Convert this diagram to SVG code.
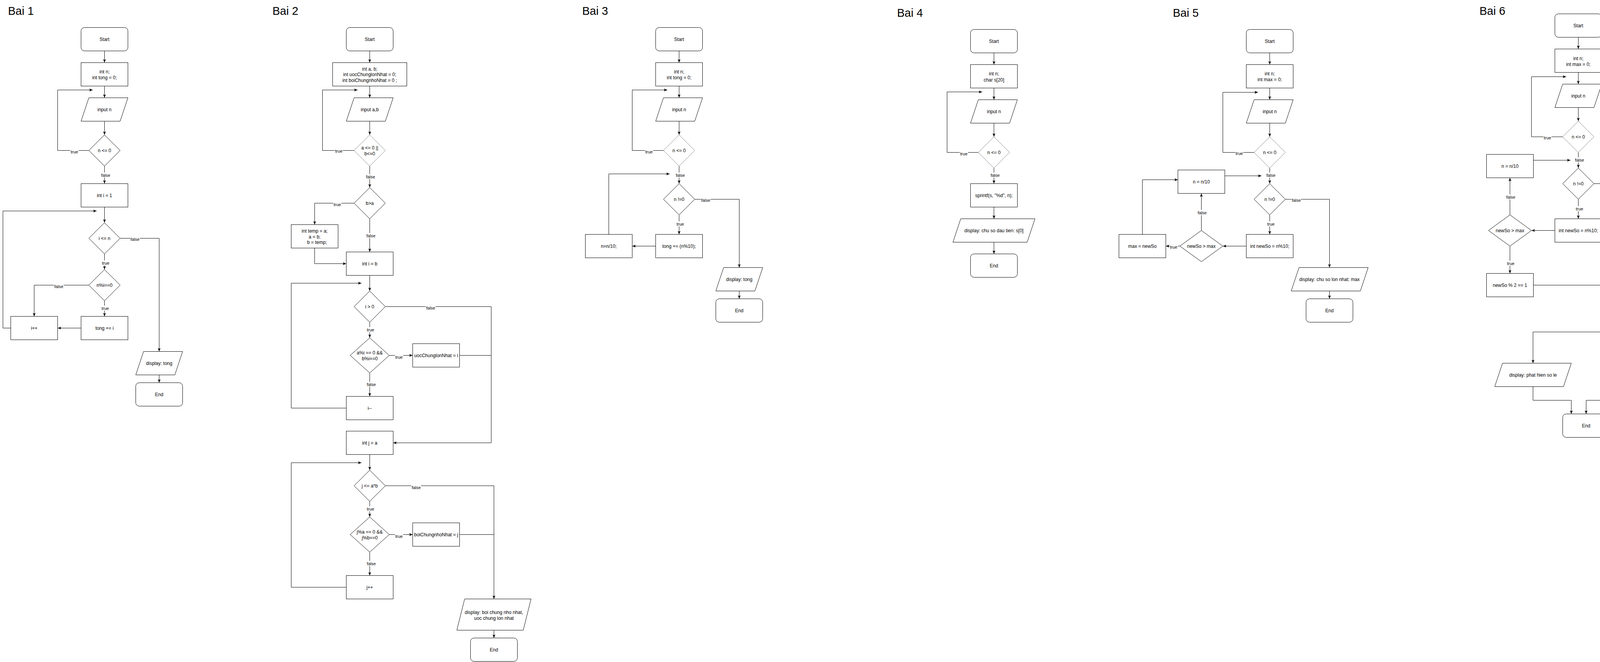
<svg xmlns="http://www.w3.org/2000/svg" width="5355" height="1696" viewBox="0 0 5355 1696">
<defs>
<style>
.t{font-family:"Liberation Sans",Arial,Helvetica,sans-serif;font-size:12px;fill:#000;text-anchor:middle}
.h{font-family:"Liberation Sans",Arial,Helvetica,sans-serif;font-size:29px;fill:#000}
.lb{font-family:"Liberation Sans",Arial,Helvetica,sans-serif;font-size:11px;fill:#000;text-anchor:middle}
.s{fill:#fff;stroke:#000;stroke-width:1}
.g{fill:#fff;stroke:#808080;stroke-width:1}
.e{fill:none;stroke:#000;stroke-width:1;marker-end:url(#ar)}
.n{fill:none;stroke:#000;stroke-width:1}
.bg{fill:#fff}
</style>
<marker id="ar" viewBox="0 0 10 10" refX="10" refY="5" markerWidth="9" markerHeight="9" markerUnits="userSpaceOnUse" orient="auto"><path d="M0,1 L10,5 L0,9 L2.5,5 z" fill="#000"/></marker>
</defs>
<rect x="0" y="0" width="5355" height="1696" fill="#fff"/>
<g transform="translate(0.5,0.5)">
<g id="titles">
<text class="h" x="20" y="37">Bai 1</text>
<text class="h" x="697" y="37">Bai 2</text>
<text class="h" x="1490" y="37">Bai 3</text>
<text class="h" x="2296" y="42">Bai 4</text>
<text class="h" x="3002" y="42">Bai 5</text>
<text class="h" x="3787" y="37">Bai 6</text>
<text class="h" x="4636" y="42">Bai 7</text>
</g>

<!-- ===== Bai 1 ===== -->
<g id="b1-start"><rect class="s" x="207" y="70" width="120" height="60" rx="9"/><text class="t" x="267" y="104">Start</text></g>
<g id="b1-decl"><rect class="s" x="207" y="160" width="120" height="60"/><text class="t" x="267" y="187">int n;</text><text class="t" x="267" y="202">int tong = 0;</text></g>
<g id="b1-input"><polygon class="s" points="227,250 327,250 307,310 207,310"/><text class="t" x="267" y="284">input n</text></g>
<g id="b1-check"><polygon class="s" points="267,345 307,385 267,425 227,385"/><text class="t" x="267" y="389">n &lt;= 0</text></g>
<g id="b1-init"><rect class="s" x="207" y="470" width="120" height="60"/><text class="t" x="267" y="504">int i = 1</text></g>
<g id="b1-loop"><polygon class="s" points="267,570 307,610 267,650 227,610"/><text class="t" x="267" y="614">i &lt;= n</text></g>
<g id="b1-div"><polygon class="s" points="267,690 307,730 267,770 227,730"/><text class="t" x="267" y="734">n%i==0</text></g>
<g id="b1-add"><rect class="s" x="207" y="810" width="120" height="60"/><text class="t" x="267" y="844">tong += i</text></g>
<g id="b1-inc"><rect class="s" x="27" y="810" width="120" height="60"/><text class="t" x="87" y="844">i++</text></g>
<g id="b1-out"><polygon class="s" points="367,900 467,900 447,960 347,960"/><text class="t" x="407" y="934">display: tong</text></g>
<g id="b1-end"><rect class="s" x="347" y="980" width="120" height="60" rx="9"/><text class="t" x="407" y="1014">End</text></g>

<!-- ===== Bai 2 ===== -->
<g id="b2-start"><rect class="s" x="886" y="70" width="120" height="60" rx="9"/><text class="t" x="946" y="104">Start</text></g>
<g id="b2-decl"><rect class="s" x="851" y="160" width="190" height="60"/><text class="t" x="946" y="180">int a, b;</text><text class="t" x="946" y="194.5">int uocChunglonNhat = 0;</text><text class="t" x="946" y="209">int boiChungnhoNhat = 0 ;</text></g>
<g id="b2-input"><polygon class="s" points="906,250 1006,250 986,310 886,310"/><text class="t" x="946" y="284">input a,b</text></g>
<g id="b2-check"><polygon class="g" points="946,345 986,385 946,425 906,385"/><text class="t" x="946" y="382">a &lt;= 0 ||</text><text class="t" x="946" y="397">b&lt;=0</text></g>
<g id="b2-cmp"><polygon class="s" points="946,480 986,520 946,560 906,520"/><text class="t" x="946" y="524">b&gt;a</text></g>
<g id="b2-swap"><rect class="s" x="745" y="575" width="120" height="60"/><text class="t" x="805" y="595.5">int temp = a;</text><text class="t" x="805" y="610">a = b;</text><text class="t" x="811" y="624.5">b = temp;</text></g>
<g id="b2-initi"><rect class="s" x="886" y="645" width="120" height="60"/><text class="t" x="946" y="679">int i = b</text></g>
<g id="b2-loopi"><polygon class="s" points="946,745 986,785 946,825 906,785"/><text class="t" x="946" y="789">i &gt; 0</text></g>
<g id="b2-divi"><polygon class="s" points="946,865 996,910 946,955 896,910"/><text class="t" x="946" y="907.5">a%i == 0 &amp;&amp;</text><text class="t" x="946" y="922.5">b%i==0</text></g>
<g id="b2-ucln"><rect class="s" x="1056" y="880" width="120" height="60"/><text class="t" x="1116" y="914">uocChunglonNhat = i</text></g>
<g id="b2-dec"><rect class="s" x="886" y="1015" width="120" height="60"/><text class="t" x="946" y="1049">i--</text></g>
<g id="b2-initj"><rect class="s" x="886" y="1104" width="120" height="60"/><text class="t" x="946" y="1138">int j = a</text></g>
<g id="b2-loopj"><polygon class="s" points="946,1204 986,1244 946,1284 906,1244"/><text class="t" x="946" y="1248">j &lt;= a*b</text></g>
<g id="b2-divj"><polygon class="s" points="946,1324 996,1369 946,1414 896,1369"/><text class="t" x="946" y="1366.5">j%a == 0 &amp;&amp;</text><text class="t" x="946" y="1381.5">j%b==0</text></g>
<g id="b2-bcnn"><rect class="s" x="1056" y="1339" width="120" height="60"/><text class="t" x="1116" y="1373">boiChungnhoNhat = j</text></g>
<g id="b2-inc"><rect class="s" x="886" y="1474" width="120" height="60"/><text class="t" x="946" y="1508">j++</text></g>
<g id="b2-out"><polygon class="s" points="1189,1534 1359,1534 1339,1614 1169,1614"/><text class="t" x="1264" y="1572.5">display: boi chung nho nhat,</text><text class="t" x="1264" y="1587.5">uoc chung lon nhat</text></g>
<g id="b2-end"><rect class="s" x="1204" y="1634" width="120" height="60" rx="9"/><text class="t" x="1264" y="1668">End</text></g>

<!-- ===== Bai 3 ===== -->
<g id="b3-start"><rect class="s" x="1678" y="70" width="120" height="60" rx="9"/><text class="t" x="1738" y="104">Start</text></g>
<g id="b3-decl"><rect class="s" x="1678" y="160" width="120" height="60"/><text class="t" x="1738" y="187.5">int n;</text><text class="t" x="1738" y="202.5">int tong = 0;</text></g>
<g id="b3-input"><polygon class="s" points="1698,250 1798,250 1778,310 1678,310"/><text class="t" x="1738" y="284">input n</text></g>
<g id="b3-check"><polygon class="g" points="1738,345 1778,385 1738,425 1698,385"/><text class="t" x="1738" y="389">n &lt;= 0</text></g>
<g id="b3-loop"><polygon class="s" points="1738,470 1778,510 1738,550 1698,510"/><text class="t" x="1738" y="514">n !=0</text></g>
<g id="b3-add"><rect class="s" x="1678" y="600" width="120" height="60"/><text class="t" x="1738" y="634">tong += (n%10);</text></g>
<g id="b3-div"><rect class="s" x="1498" y="600" width="120" height="60"/><text class="t" x="1558" y="634">n=n/10;</text></g>
<g id="b3-out"><polygon class="s" points="1852,685 1952,685 1932,745 1832,745"/><text class="t" x="1892" y="719">display: tong</text></g>
<g id="b3-end"><rect class="s" x="1832" y="765" width="120" height="60" rx="9"/><text class="t" x="1892" y="799">End</text></g>

<!-- ===== Bai 4 ===== -->
<g id="b4-start"><rect class="s" x="2484" y="75" width="120" height="60" rx="9"/><text class="t" x="2544" y="109">Start</text></g>
<g id="b4-decl"><rect class="s" x="2484" y="165" width="120" height="60"/><text class="t" x="2544" y="192.5">int n;</text><text class="t" x="2544" y="208">char s[20]</text></g>
<g id="b4-input"><polygon class="s" points="2504,255 2604,255 2584,315 2484,315"/><text class="t" x="2544" y="289">input n</text></g>
<g id="b4-check"><polygon class="g" points="2544,350 2584,390 2544,430 2504,390"/><text class="t" x="2544" y="394">n &lt;= 0</text></g>
<g id="b4-conv"><rect class="s" x="2484" y="470" width="120" height="60"/><text class="t" x="2544" y="504">sprintf(s, "%d", n);</text></g>
<g id="b4-out"><polygon class="s" points="2459,560 2649,560 2629,620 2439,620"/><text class="t" x="2544" y="594">display: chu so dau tien: s[0]</text></g>
<g id="b4-end"><rect class="s" x="2484" y="650" width="120" height="60" rx="9"/><text class="t" x="2544" y="684">End</text></g>

<!-- ===== Bai 5 ===== -->
<g id="b5-start"><rect class="s" x="3190" y="75" width="120" height="60" rx="9"/><text class="t" x="3250" y="109">Start</text></g>
<g id="b5-decl"><rect class="s" x="3190" y="165" width="120" height="60"/><text class="t" x="3250" y="192.5">int n;</text><text class="t" x="3250" y="207.5">int max = 0;</text></g>
<g id="b5-input"><polygon class="s" points="3210,255 3310,255 3290,315 3190,315"/><text class="t" x="3250" y="289">input n</text></g>
<g id="b5-check"><polygon class="g" points="3250,350 3290,390 3250,430 3210,390"/><text class="t" x="3250" y="394">n &lt;= 0</text></g>
<g id="b5-div"><rect class="s" x="3015" y="435" width="120" height="60"/><text class="t" x="3075" y="469">n = n/10</text></g>
<g id="b5-loop"><polygon class="s" points="3250,470 3290,510 3250,550 3210,510"/><text class="t" x="3250" y="514">n !=0</text></g>
<g id="b5-digit"><rect class="s" x="3190" y="600" width="120" height="60"/><text class="t" x="3250" y="634">int newSo = n%10;</text></g>
<g id="b5-cmp"><polygon class="s" points="3075,590 3130,630 3075,670 3020,630"/><text class="t" x="3075" y="634">newSo &gt; max</text></g>
<g id="b5-max"><rect class="s" x="2864" y="600" width="120" height="60"/><text class="t" x="2924" y="634">max = newSo</text></g>
<g id="b5-out"><polygon class="s" points="3325,685 3502,685 3482,745 3305,745"/><text class="t" x="3403" y="719">display: chu so lon nhat: max</text></g>
<g id="b5-end"><rect class="s" x="3343" y="765" width="120" height="60" rx="9"/><text class="t" x="3403" y="799">End</text></g>

<!-- ===== Bai 6 ===== -->
<g id="b6-start"><rect class="s" x="3980" y="35" width="120" height="60" rx="9"/><text class="t" x="4040" y="69">Start</text></g>
<g id="b6-decl"><rect class="s" x="3980" y="125" width="120" height="60"/><text class="t" x="4040" y="153">int n;</text><text class="t" x="4040" y="168">int max = 0;</text></g>
<g id="b6-input"><polygon class="s" points="4000,215 4100,215 4080,275 3980,275"/><text class="t" x="4040" y="249">input n</text></g>
<g id="b6-check"><polygon class="g" points="4040,310 4080,350 4040,390 4000,350"/><text class="t" x="4040" y="354">n &lt;= 0</text></g>
<g id="b6-div"><rect class="s" x="3805" y="395" width="120" height="60"/><text class="t" x="3865" y="429">n = n/10</text></g>
<g id="b6-loop"><polygon class="s" points="4040,430 4080,470 4040,510 4000,470"/><text class="t" x="4040" y="474">n !=0</text></g>
<g id="b6-digit"><rect class="s" x="3980" y="560" width="120" height="60"/><text class="t" x="4040" y="594">int newSo = n%10;</text></g>
<g id="b6-cmp"><polygon class="s" points="3865,550 3920,590 3865,630 3810,590"/><text class="t" x="3865" y="594">newSo &gt; max</text></g>
<g id="b6-odd"><rect class="s" x="3805" y="700" width="120" height="60"/><text class="t" x="3865" y="734">newSo % 2 == 1</text></g>
<g id="b6-zero"><polygon class="s" points="4198,810 4238,850 4198,890 4158,850"/><text class="t" x="4198" y="854">n==0</text></g>
<g id="b6-out1"><polygon class="s" points="3846,930 4022,930 4002,990 3826,990"/><text class="t" x="3924" y="964">display: phat hien so le</text></g>
<g id="b6-out2"><polygon class="s" points="4120,930 4296,930 4276,990 4100,990"/><text class="t" x="4198" y="964">display: ko phat hien so le</text></g>
<g id="b6-end"><rect class="s" x="4000" y="1060" width="120" height="60" rx="9"/><text class="t" x="4060" y="1094">End</text></g>

<!-- ===== Bai 7 ===== -->
<g id="b7-start"><rect class="s" x="4914" y="98" width="120" height="60" rx="9"/><text class="t" x="4974" y="132">Start</text></g>
<g id="b7-decl"><rect class="s" x="4879" y="188" width="190" height="60"/><text class="t" x="4974" y="222">int a, b;</text></g>
<g id="b7-input"><polygon class="s" points="4934,278 5034,278 5014,338 4914,338"/><text class="t" x="4974" y="312">input a,b</text></g>
<g id="b7-check"><polygon class="s" points="4974,373 5014,413 4974,453 4934,413"/><text class="t" x="4974" y="417">a&gt;b</text></g>
<g id="b7-initi"><rect class="s" x="4914" y="510" width="120" height="60"/><text class="t" x="4974" y="544">int i = a+1</text></g>
<g id="b7-loopi"><polygon class="s" points="4974,630 5014,670 4974,710 4934,670"/><text class="t" x="4974" y="674">i&lt;=b</text></g>
<g id="b7-dem"><rect class="s" x="4914" y="745" width="120" height="60"/><text class="t" x="4974" y="779">int dem = 0</text></g>
<g id="b7-initj"><rect class="s" x="4914" y="835" width="120" height="60"/><text class="t" x="4974" y="869">int j = 2</text></g>
<g id="b7-loopj"><polygon class="s" points="4974,945 5014,985 4974,1025 4934,985"/><text class="t" x="4974" y="989">j&lt;i</text></g>
<g id="b7-div"><polygon class="s" points="4974,1055 5014,1095 4974,1135 4934,1095"/><text class="t" x="4974" y="1099">i%j==0</text></g>
<g id="b7-incj"><rect class="s" x="4834" y="1185" width="120" height="60"/><text class="t" x="4894" y="1219">j++</text></g>
<g id="b7-incdem"><rect class="s" x="4984" y="1185" width="120" height="60"/><text class="t" x="5044" y="1219">dem++</text></g>
<g id="b7-prime"><polygon class="s" points="5124,1345 5164,1385 5124,1425 5084,1385"/><text class="t" x="5124" y="1389">dem = 0</text></g>
<g id="b7-inci"><rect class="s" x="4675" y="1414" width="120" height="60"/><text class="t" x="4735" y="1448">i++</text></g>
<g id="b7-print"><rect class="s" x="4999" y="1465" width="250" height="60"/><text class="t" x="5124" y="1499">printf("phat hien so nguyen to: %d",i);</text></g>
<g id="b7-end"><rect class="s" x="5234" y="1627" width="120" height="60" rx="9"/><text class="t" x="5294" y="1661">End</text></g>

<!-- ===== connectors ===== -->
<g id="connectors">
<path class="e" d="M267,130 V160"/>
<path class="e" d="M267,220 V250"/>
<path class="e" d="M267,310 V345"/>
<path class="e" d="M227,385 H147 V230 H237"/>
<path class="e" d="M267,425 V470"/>
<path class="e" d="M267,530 V570"/>
<path class="e" d="M307,610 H407 V900"/>
<path class="e" d="M267,650 V690"/>
<path class="e" d="M227,730 H87 V810"/>
<path class="e" d="M267,770 V810"/>
<path class="e" d="M207,840 H147"/>
<path class="e" d="M27,840 H7 V540 H247"/>
<path class="e" d="M407,960 V980"/>
<path class="e" d="M946,130 V160"/>
<path class="e" d="M946,220 V250"/>
<path class="e" d="M946,310 V345"/>
<path class="e" d="M906,385 H825 V230 H915"/>
<path class="e" d="M946,425 V480"/>
<path class="e" d="M906,520 H805 V575"/>
<path class="e" d="M946,560 V645"/>
<path class="e" d="M805,635 V675 H886"/>
<path class="e" d="M946,705 V745"/>
<path class="e" d="M986,785 H1257 V1134 H1006"/>
<path class="e" d="M946,825 V865"/>
<path class="e" d="M996,910 H1056"/>
<path class="n" d="M1176,910 H1257"/>
<path class="e" d="M946,955 V1015"/>
<path class="e" d="M886,1045 H745 V725 H925"/>
<path class="e" d="M946,1164 V1204"/>
<path class="e" d="M986,1244 H1264 V1534"/>
<path class="e" d="M946,1284 V1324"/>
<path class="e" d="M996,1369 H1056"/>
<path class="n" d="M1176,1369 H1264"/>
<path class="e" d="M946,1414 V1474"/>
<path class="e" d="M886,1504 H745 V1185 H925"/>
<path class="e" d="M1264,1614 V1634"/>
<path class="e" d="M1738,130 V160"/>
<path class="e" d="M1738,220 V250"/>
<path class="e" d="M1738,310 V345"/>
<path class="e" d="M1698,385 H1618 V230 H1708"/>
<path class="e" d="M1738,425 V470"/>
<path class="e" d="M1778,510 H1892 V685"/>
<path class="e" d="M1738,550 V600"/>
<path class="e" d="M1678,630 H1618"/>
<path class="e" d="M1558,600 V445 H1714"/>
<path class="e" d="M1892,745 V765"/>
<path class="e" d="M2544,135 V165"/>
<path class="e" d="M2544,225 V255"/>
<path class="e" d="M2544,315 V350"/>
<path class="e" d="M2504,390 H2424 V235 H2514"/>
<path class="e" d="M2544,430 V470"/>
<path class="e" d="M2544,530 V560"/>
<path class="e" d="M2544,620 V650"/>
<path class="e" d="M3250,135 V165"/>
<path class="e" d="M3250,225 V255"/>
<path class="e" d="M3250,315 V350"/>
<path class="e" d="M3210,390 H3130 V236 H3220"/>
<path class="e" d="M3250,430 V470"/>
<path class="e" d="M3135,450 H3229"/>
<path class="e" d="M3290,510 H3403 V685"/>
<path class="e" d="M3250,550 V600"/>
<path class="e" d="M3190,630 H3130"/>
<path class="e" d="M3020,630 H2984"/>
<path class="e" d="M3075,590 V495"/>
<path class="e" d="M2924,600 V460 H3015"/>
<path class="e" d="M3403,745 V765"/>
<path class="e" d="M4040,95 V125"/>
<path class="e" d="M4040,185 V215"/>
<path class="e" d="M4040,275 V310"/>
<path class="e" d="M4000,350 H3920 V196 H4009"/>
<path class="e" d="M4040,390 V430"/>
<path class="e" d="M3925,410 H4020"/>
<path class="e" d="M4080,470 H4198 V810"/>
<path class="e" d="M4040,510 V560"/>
<path class="e" d="M3980,590 H3920"/>
<path class="e" d="M3865,550 V455"/>
<path class="e" d="M3865,630 V700"/>
<path class="n" d="M3925,730 H4195"/>
<path class="e" d="M4158,850 H3924 V930"/>
<path class="e" d="M4198,890 V930"/>
<path class="e" d="M3924,990 V1025 H4022 V1060"/>
<path class="e" d="M4198,990 V1025 H4060 V1060"/>
<path class="e" d="M4974,158 V188"/>
<path class="e" d="M4974,248 V278"/>
<path class="e" d="M4974,338 V373"/>
<path class="e" d="M4934,413 H4855 V258 H4944"/>
<path class="e" d="M4974,453 V510"/>
<path class="e" d="M4974,570 V630"/>
<path class="e" d="M4734,1414 V605 H4944"/>
<path class="e" d="M5014,670 H5294 V1627"/>
<path class="e" d="M4974,710 V745"/>
<path class="e" d="M4974,805 V835"/>
<path class="e" d="M4974,895 V945"/>
<path class="e" d="M4834,1215 H4815 V926 H4954"/>
<path class="e" d="M5014,985 H5124 V1345"/>
<path class="e" d="M4974,1025 V1055"/>
<path class="e" d="M4934,1095 H4888 V1185"/>
<path class="e" d="M5014,1095 H5044 V1185"/>
<path class="e" d="M4984,1215 H4954"/>
<path class="e" d="M5084,1385 H4939 V1429 H4795"/>
<path class="e" d="M5124,1425 V1465"/>
<path class="e" d="M4999,1495 H4897 V1444 H4795"/>

<g id="labels">
<rect class="bg" x="179.5" y="381.5" width="21" height="13"/><text class="lb" x="190" y="392">true</text>
<rect class="bg" x="257.5" y="441.5" width="25" height="13"/><text class="lb" x="270" y="452">false</text>
<rect class="bg" x="332.5" y="605.5" width="25" height="13"/><text class="lb" x="345" y="616">false</text>
<rect class="bg" x="259.5" y="666.5" width="21" height="13"/><text class="lb" x="270" y="677">true</text>
<rect class="bg" x="137.5" y="726.5" width="25" height="13"/><text class="lb" x="150" y="737">false</text>
<rect class="bg" x="258.5" y="782.5" width="21" height="13"/><text class="lb" x="269" y="793">true</text>
<rect class="bg" x="856.5" y="379.5" width="21" height="13"/><text class="lb" x="867" y="390">true</text>
<rect class="bg" x="935.5" y="445.5" width="25" height="13"/><text class="lb" x="948" y="456">false</text>
<rect class="bg" x="852.5" y="516.5" width="21" height="13"/><text class="lb" x="863" y="527">true</text>
<rect class="bg" x="936.5" y="596.5" width="25" height="13"/><text class="lb" x="949" y="607">false</text>
<rect class="bg" x="1089.5" y="781.5" width="25" height="13"/><text class="lb" x="1102" y="792">false</text>
<rect class="bg" x="937.5" y="837.5" width="21" height="13"/><text class="lb" x="948" y="848">true</text>
<rect class="bg" x="1010.5" y="907.5" width="21" height="13"/><text class="lb" x="1021" y="918">true</text>
<rect class="bg" x="937.5" y="977.5" width="25" height="13"/><text class="lb" x="950" y="988">false</text>
<rect class="bg" x="1052.5" y="1241.5" width="25" height="13"/><text class="lb" x="1065" y="1252">false</text>
<rect class="bg" x="937.5" y="1296.5" width="21" height="13"/><text class="lb" x="948" y="1307">true</text>
<rect class="bg" x="1010.5" y="1366.5" width="21" height="13"/><text class="lb" x="1021" y="1377">true</text>
<rect class="bg" x="937.5" y="1436.5" width="25" height="13"/><text class="lb" x="950" y="1447">false</text>
<rect class="bg" x="1650.5" y="381.5" width="21" height="13"/><text class="lb" x="1661" y="392">true</text>
<rect class="bg" x="1728.5" y="441.5" width="25" height="13"/><text class="lb" x="1741" y="452">false</text>
<rect class="bg" x="1793.5" y="505.5" width="25" height="13"/><text class="lb" x="1806" y="516">false</text>
<rect class="bg" x="1730.5" y="566.5" width="21" height="13"/><text class="lb" x="1741" y="577">true</text>
<rect class="bg" x="2456.5" y="386.5" width="21" height="13"/><text class="lb" x="2467" y="397">true</text>
<rect class="bg" x="2534.5" y="441.5" width="25" height="13"/><text class="lb" x="2547" y="452">false</text>
<rect class="bg" x="3161.5" y="385.5" width="21" height="13"/><text class="lb" x="3172" y="396">true</text>
<rect class="bg" x="3240.5" y="441.5" width="25" height="13"/><text class="lb" x="3253" y="452">false</text>
<rect class="bg" x="3305.5" y="505.5" width="25" height="13"/><text class="lb" x="3318" y="516">false</text>
<rect class="bg" x="3242.5" y="566.5" width="21" height="13"/><text class="lb" x="3253" y="577">true</text>
<rect class="bg" x="2993.5" y="625.5" width="21" height="13"/><text class="lb" x="3004" y="636">true</text>
<rect class="bg" x="3064.5" y="537.5" width="25" height="13"/><text class="lb" x="3077" y="548">false</text>
<rect class="bg" x="3950.5" y="345.5" width="21" height="13"/><text class="lb" x="3961" y="356">true</text>
<rect class="bg" x="4030.5" y="402.5" width="25" height="13"/><text class="lb" x="4043" y="413">false</text>
<rect class="bg" x="4112.5" y="465.5" width="25" height="13"/><text class="lb" x="4125" y="476">false</text>
<rect class="bg" x="4032.5" y="527.5" width="21" height="13"/><text class="lb" x="4043" y="538">true</text>
<rect class="bg" x="3854.5" y="497.5" width="25" height="13"/><text class="lb" x="3867" y="508">false</text>
<rect class="bg" x="3856.5" y="667.5" width="21" height="13"/><text class="lb" x="3867" y="678">true</text>
<rect class="bg" x="4187.5" y="904.5" width="21" height="13"/><text class="lb" x="4198" y="915">true</text>
<rect class="bg" x="4885.5" y="408.5" width="21" height="13"/><text class="lb" x="4896" y="419">true</text>
<rect class="bg" x="4961.5" y="469.5" width="25" height="13"/><text class="lb" x="4974" y="480">false</text>
<rect class="bg" x="5123.5" y="663.5" width="25" height="13"/><text class="lb" x="5136" y="674">false</text>
<rect class="bg" x="4965.5" y="719.5" width="21" height="13"/><text class="lb" x="4976" y="730">true</text>
<rect class="bg" x="5039.5" y="982.5" width="25" height="13"/><text class="lb" x="5052" y="993">false</text>
<rect class="bg" x="4967.5" y="1034.5" width="21" height="13"/><text class="lb" x="4978" y="1045">true</text>
<rect class="bg" x="4875.5" y="1121.5" width="25" height="13"/><text class="lb" x="4888" y="1132">false</text>
<rect class="bg" x="5035.5" y="1139.5" width="21" height="13"/><text class="lb" x="5046" y="1150">true</text>
<rect class="bg" x="4965.5" y="1381.5" width="25" height="13"/><text class="lb" x="4978" y="1392">false</text>
<rect class="bg" x="5115.5" y="1437.5" width="21" height="13"/><text class="lb" x="5126" y="1448">true</text>
</g>
</g>
</g>
</svg>
